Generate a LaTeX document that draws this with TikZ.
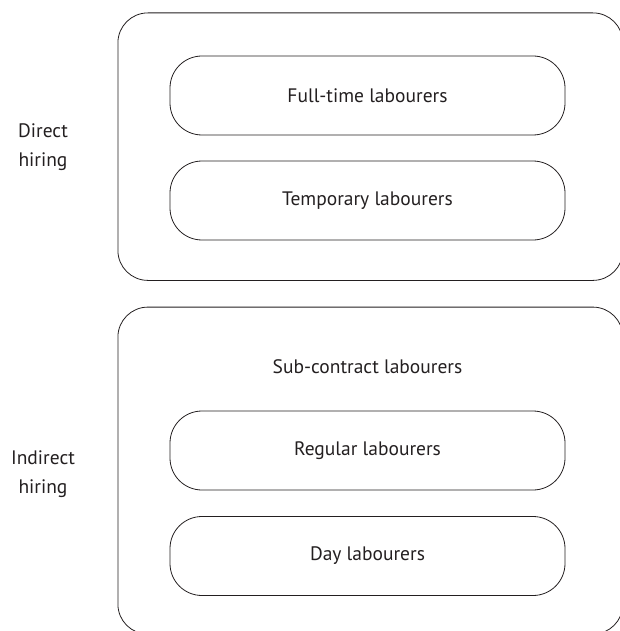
\documentclass[tikz,border=0pt]{standalone}
\usepackage{fontspec}
\setmainfont{PT Sans}
\definecolor{ink}{HTML}{231F20}
\begin{document}
\begin{tikzpicture}[x=1pt,y=-1pt,
  outerbox/.style={draw=ink, line width=0.8pt, rounded corners=30pt, minimum width=505pt, anchor=north west, inner sep=0pt},
  innerbox/.style={draw=ink, line width=0.8pt, rounded corners=32pt, minimum width=395pt, minimum height=79pt, inner sep=0pt, font=\fontsize{19.5}{22}\selectfont, text=ink},
  lbl/.style={font=\fontsize{19.5}{29}\selectfont, text=ink, align=center, inner sep=0pt}]
\useasboundingbox (0,0) rectangle (619,631);
\node[outerbox, minimum height=267.5pt] (direct) at (117.5,12.5) {};
\node[outerbox, minimum height=327pt] (indirect) at (117.5,306.7) {};
\node[innerbox] (full) at (367.5,95.5) {Full-time labourers};
\node[innerbox] (temp) at (367.5,200.5) {Temporary labourers};
\node[font=\fontsize{19.5}{22}\selectfont, text=ink, inner sep=0pt] (sub) at (367.5,366.7) {Sub-contract labourers};
\node[innerbox] (reg) at (367.5,450.5) {Regular labourers};
\node[innerbox] (day) at (367.5,556) {Day labourers};
\node[lbl] (dl) at (43,147) {Direct\\hiring};
\node[lbl] (il) at (43,474) {Indirect\\hiring};
\end{tikzpicture}
\end{document}
